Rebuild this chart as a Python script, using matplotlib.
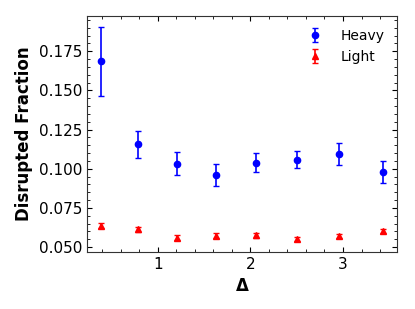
import numpy as np
import matplotlib
matplotlib.use('Agg')
import matplotlib.pyplot as plt
from matplotlib.ticker import AutoMinorLocator

# 数据
delta = [0.39, 0.79, 1.21, 1.63, 2.06, 2.50, 2.96, 3.43]
heavy = [0.1686, 0.1156, 0.1032, 0.0959, 0.1039, 0.1058, 0.1094, 0.0978]
heavy_err = [0.0220, 0.0087, 0.0075, 0.0070, 0.0063, 0.0055, 0.0070, 0.0070]
light = [0.0635, 0.0614, 0.0561, 0.0573, 0.0576, 0.0551, 0.0572, 0.0603]
light_err = [0.0016, 0.0016, 0.0015, 0.0015, 0.0015, 0.0014, 0.0014, 0.0015]

fig = plt.figure(figsize=(4.15, 3.09), dpi=100)
ax = fig.add_axes([0.2096, 0.1845, 0.747, 0.7635])

ax.errorbar(delta, heavy, yerr=heavy_err, fmt='o', color='blue', ms=4.5,
            capsize=2.5, elinewidth=1.2, label='Heavy')
ax.errorbar(delta, light, yerr=light_err, fmt='^', color='red', ms=4.5,
            capsize=2.5, elinewidth=1.2, label='Light')

ax.set_xlabel(r'$\mathbf{\Delta}$', fontsize=12, fontweight='bold')
ax.set_ylabel('Disrupted Fraction', fontsize=12, fontweight='bold')

ax.xaxis.set_minor_locator(AutoMinorLocator())
ax.yaxis.set_minor_locator(AutoMinorLocator())
ax.tick_params(which='both', direction='in', top=True, right=True, labelsize=11)
for s in ax.spines.values():
    s.set_color('#333333')

ax.legend(frameon=False, fontsize=10, loc='upper right')

fig.savefig('out.png', dpi=100)
